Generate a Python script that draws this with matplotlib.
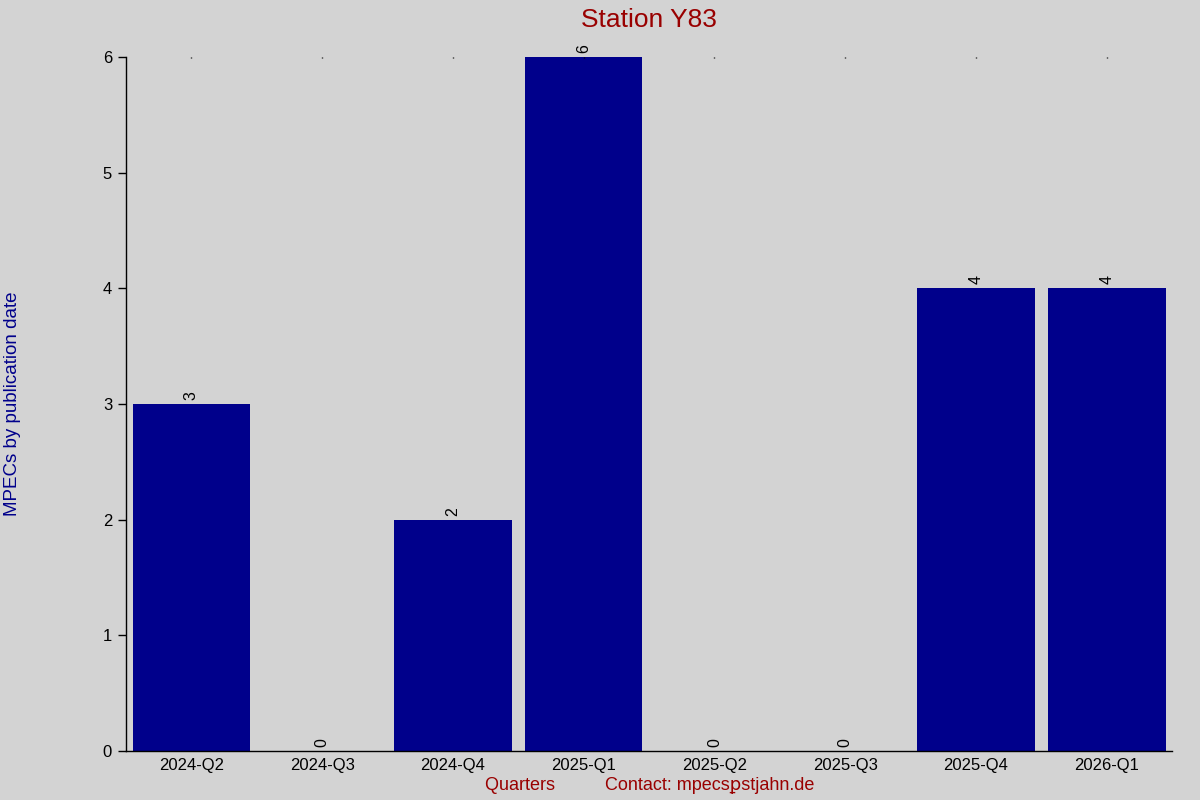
import matplotlib
matplotlib.use("Agg")
import matplotlib.pyplot as plt

plt.rcParams['font.family'] = ['Liberation Sans', 'DejaVu Sans']

quarters = ['2024-Q2', '2024-Q3', '2024-Q4', '2025-Q1', '2025-Q2', '2025-Q3', '2025-Q4', '2026-Q1']
counts = [3, 0, 2, 6, 0, 0, 4, 4]

bg = '#d3d3d3'
fig = plt.figure(figsize=(12, 8), dpi=100, facecolor=bg)
ax = fig.add_axes([0.105, 0.06125, 0.8717, 0.8675], facecolor=bg)

xs = range(len(quarters))
ax.bar(xs, counts, width=0.9, color='#00008b')
for x, v in zip(xs, counts):
    ax.annotate(str(v), (x, v), xytext=(0, 3), textcoords='offset points',
                ha='center', va='bottom', rotation=90, fontsize=11.5, color='black')

ax.set_xlim(-0.5, len(quarters) - 0.5)
ax.set_ylim(0, 6)
ax.set_xticks(list(xs))
ax.set_xticklabels(quarters, fontsize=12)
ax.set_yticks(range(0, 7))
ax.tick_params(axis='y', direction='out', length=6, width=1, pad=4, labelsize=12)
ax.tick_params(axis='x', bottom=False, top=True, direction='in', length=1, width=1, pad=5)

for s in ['top', 'right']:
    ax.spines[s].set_visible(False)
ax.spines['left'].set_linewidth(1)
ax.spines['bottom'].set_linewidth(1)

ax.set_title('Station Y83', fontsize=19, color='#990000', pad=21.5)
fig.text(0.003, 0.495, 'MPECs by publication date', rotation=90, va='center', ha='left',
         fontsize=13.5, color='#00008b')
fig.text(0.541, 0.0175, 'Quarters          Contact: mpecs\ua751stjahn.de', ha='center', va='center',
         fontsize=13, color='#990000')

fig.savefig('out.png', dpi=100, facecolor=bg)
